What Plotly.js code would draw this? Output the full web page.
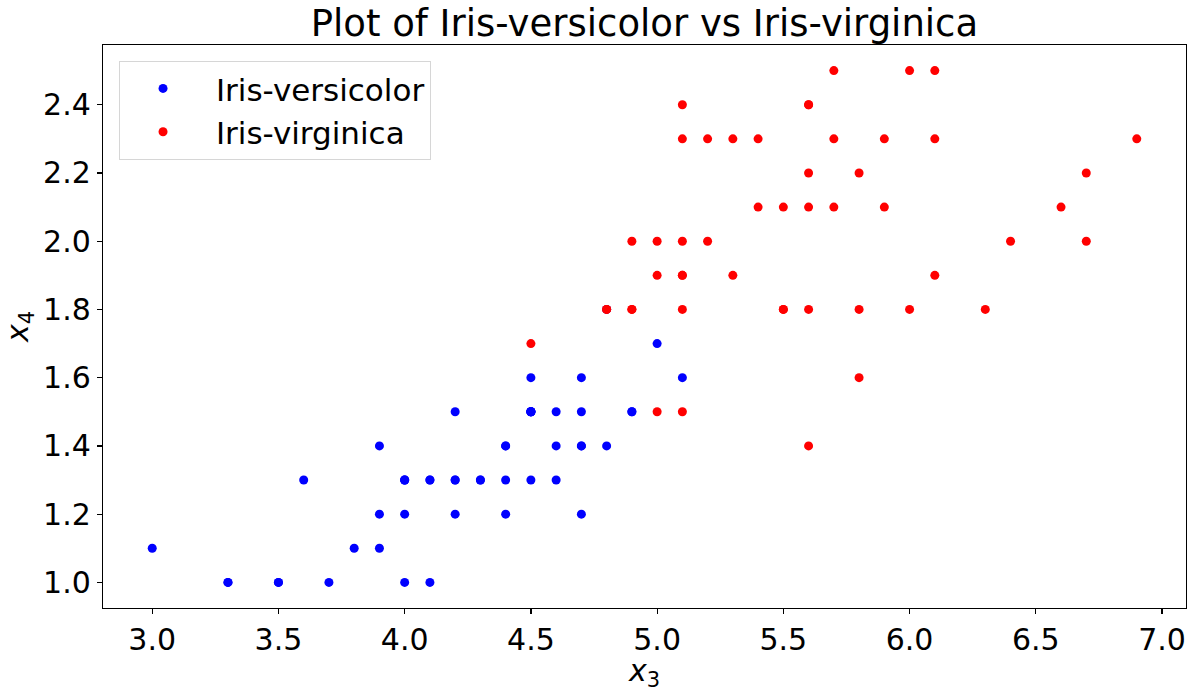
<!DOCTYPE html>
<html><head><meta charset="utf-8">
<script src="https://cdn.plot.ly/plotly-3.0.1.min.js"></script>
<style>body{margin:0;padding:0;background:#fff}#chart{width:1200px;height:692px}</style>
</head><body><div id="chart"></div>
<script>
const versicolorX = [4.7,4.5,4.9,4.0,4.6,4.5,4.7,3.3,4.6,3.9,3.5,4.2,4.0,4.7,3.6,4.4,4.5,4.1,4.5,3.9,4.8,4.0,4.9,4.7,4.3,4.4,4.8,5.0,4.5,3.5,3.8,3.7,3.9,5.1,4.5,4.5,4.7,4.4,4.1,4.0,4.4,4.6,4.0,3.3,4.2,4.2,4.2,4.3,3.0,4.1];
const versicolorY = [1.4,1.5,1.5,1.3,1.5,1.3,1.6,1.0,1.3,1.4,1.0,1.5,1.0,1.4,1.3,1.4,1.5,1.0,1.5,1.1,1.8,1.3,1.5,1.2,1.3,1.4,1.4,1.7,1.5,1.0,1.1,1.0,1.2,1.6,1.5,1.6,1.5,1.3,1.3,1.3,1.2,1.4,1.2,1.0,1.3,1.2,1.3,1.3,1.1,1.3];
const virginicaX = [6.0,5.1,5.9,5.6,5.8,6.6,4.5,6.3,5.8,6.1,5.1,5.3,5.5,5.0,5.1,5.3,5.5,6.7,6.9,5.0,5.7,4.9,6.7,4.9,5.7,6.0,4.8,4.9,5.6,5.8,6.1,6.4,5.6,5.1,5.6,6.1,5.6,5.5,4.8,5.4,5.6,5.1,5.1,5.9,5.7,5.2,5.0,5.2,5.4,5.1];
const virginicaY = [2.5,1.9,2.1,1.8,2.2,2.1,1.7,1.8,1.8,2.5,2.0,1.9,2.1,2.0,2.4,2.3,1.8,2.2,2.3,1.5,2.3,2.0,2.0,1.8,2.1,1.8,1.8,1.8,2.1,1.6,1.9,2.0,2.2,1.5,1.4,2.3,2.4,1.8,1.8,2.1,2.4,2.3,1.9,2.3,2.5,2.3,1.9,2.0,2.3,1.8];
const seriesNames = ['Iris-versicolor','Iris-virginica'];
const xTicks = [3.0,3.5,4.0,4.5,5.0,5.5,6.0,6.5,7.0];
const yTicks = [1.0,1.2,1.4,1.6,1.8,2.0,2.2,2.4];

const font = 'DejaVu Sans, sans-serif';
const pad = '\u00a0';
const traces = [
  {x: versicolorX, y: versicolorY, name: pad + seriesNames[0], type: 'scatter', mode: 'markers',
   marker: {color: '#0000ff', size: 9}},
  {x: virginicaX, y: virginicaY, name: pad + seriesNames[1], type: 'scatter', mode: 'markers',
   marker: {color: '#ff0000', size: 9}}
];
const axisCommon = {
  showgrid: false, zeroline: false, showline: true, linecolor: '#000', linewidth: 1.2, mirror: true,
  ticks: 'outside', ticklen: 5, tickwidth: 1.2, tickcolor: '#000',
  tickfont: {family: font, size: 30, color: '#000'}
};
const layout = {
  width: 1200, height: 692,
  margin: {l: 103, r: 14, t: 45, b: 84},
  paper_bgcolor: '#fff', plot_bgcolor: '#fff',
  font: {family: font, color: '#000'},
  title: {text: 'Plot of Iris-versicolor vs Iris-virginica', font: {family: font, size: 37, color: '#000'},
          x: 0.537, xanchor: 'center', y: 0.966, yanchor: 'middle'},
  xaxis: Object.assign({}, axisCommon, {range: [2.805, 7.095], tickvals: xTicks,
    ticktext: xTicks.map(v => v.toFixed(1)),
    title: {text: '<i>x</i><sub>3</sub>', font: {family: font, size: 30, color: '#000'}, standoff: 0}}),
  yaxis: Object.assign({}, axisCommon, {range: [0.925, 2.575], tickvals: yTicks,
    ticktext: yTicks.map(v => v.toFixed(1)),
    title: {text: '<i>x</i><sub>4</sub>', font: {family: font, size: 30, color: '#000'}, standoff: 6}}),
  showlegend: true,
  legend: {x: 0.0148, y: 0.972, xanchor: 'left', yanchor: 'top',
    bgcolor: 'rgba(255,255,255,0.8)', bordercolor: '#d6d6d6', borderwidth: 1,
    font: {family: font, size: 31, color: '#000'}, itemwidth: 76, tracegroupgap: 0}
};
Plotly.newPlot('chart', traces, layout, {displayModeBar: false, staticPlot: true});
</script></body></html>
